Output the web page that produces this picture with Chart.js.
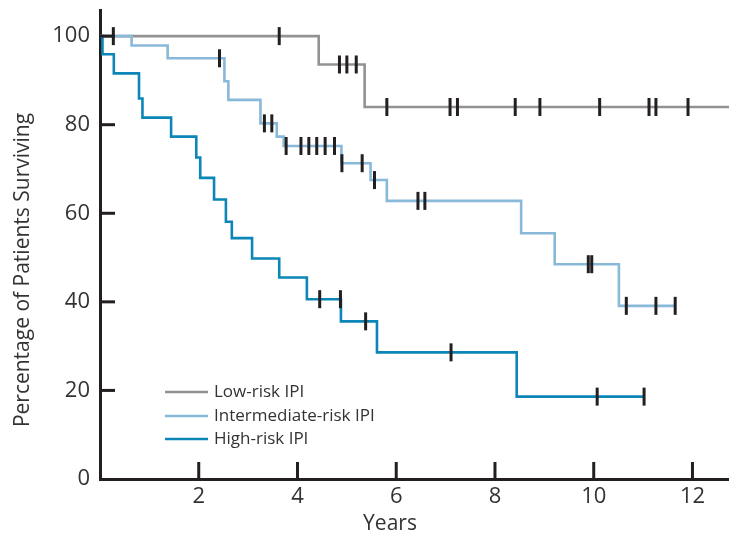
<!DOCTYPE html>
<html>
<head>
<meta charset="utf-8">
<script src="https://cdn.jsdelivr.net/npm/chart.js@4"></script>
<style>
	html, body { margin: 0; padding: 0; background: #fff; }
	#wrap { width: 729px; height: 537px; }
</style>
</head>
<body>
<div id="wrap"><canvas id="kmChart" width="729" height="537"></canvas></div>
<script>
/* ---------------- data ---------------- */

var seriesNames = [ 'Low-risk IPI', 'Intermediate-risk IPI', 'High-risk IPI' ];

// step times (years) and survival (%) after each step
var lowTimes = [ 0, 4.43, 5.36, 12.74 ];
var lowSurv  = [ 100, 93.6, 84.0, 84.0 ];
var lowCensored = [ 0.27, 3.63, 4.85, 5.0, 5.19, 5.81, 7.09, 7.24, 8.41, 8.91, 10.12, 11.12, 11.26, 11.91 ];

var midTimes = [ 0, 0.64, 1.37, 2.52, 2.60, 3.25, 3.58, 3.72, 4.89, 5.48, 5.81, 8.53, 9.21, 10.51, 11.65 ];
var midSurv  = [ 100, 97.9, 95.0, 89.8, 85.6, 80.3, 77.3, 75.2, 71.3, 67.5, 62.8, 55.5, 48.5, 39.1, 39.1 ];
var midCensored = [ 2.42, 3.33, 3.48, 3.77, 4.07, 4.23, 4.39, 4.56, 4.75, 4.90, 5.31, 5.56, 6.44, 6.58, 9.89, 9.96, 10.66, 11.26, 11.65 ];

var highTimes = [ 0, 0.05, 0.28, 0.79, 0.86, 1.44, 1.95, 2.03, 2.31, 2.55, 2.67, 3.08, 3.63, 4.19, 4.88, 5.61, 8.44, 11.02 ];
var highSurv  = [ 100, 95.9, 91.6, 85.9, 81.6, 77.3, 72.6, 68.0, 63.1, 58.1, 54.4, 49.8, 45.5, 40.6, 35.6, 28.6, 18.6, 18.6 ];
var highCensored = [ 4.45, 4.87, 5.38, 7.11, 10.07, 11.02 ];

var xTicks = [ 2, 4, 6, 8, 10, 12 ];
var yTicks = [ 0, 20, 40, 60, 80, 100 ];

/* ---------------- helpers ---------------- */

var colors = [ '#929292', '#89b9d9', '#0b86b6' ];
var censorColor = '#231f20';
var axisColor = '#231f20';
var textColor = '#333333';
var fontFamily = '"Open Sans", Lato, sans-serif';

function toPoints(times, surv) {
	return times.map(function (t, i) { return { x: t, y: surv[i] }; });
}

// survival level at a censoring time (last step at or before it)
function censorPoints(censored, times, surv) {
	return censored.map(function (t) {
		var v = surv[0];
		for (var i = 0; i < times.length; i++) {
			if (times[i] <= t) v = surv[i];
		}
		return { x: t, y: v };
	});
}

function stepSet(label, times, surv, color) {
	return {
		type: 'line',
		label: label,
		data: toPoints(times, surv),
		stepped: 'before',
		borderColor: color,
		borderWidth: 2.6,
		pointRadius: 0,
		fill: false,
		order: 2
	};
}

function censorSet(censored, times, surv) {
	return {
		type: 'scatter',
		label: 'censored',
		data: censorPoints(censored, times, surv),
		pointStyle: 'line',
		rotation: 90,
		radius: 9,
		borderWidth: 3,
		borderColor: censorColor,
		backgroundColor: censorColor,
		order: 1
	};
}

/* ---------------- extra drawing: inward ticks, titles, legend ---------------- */

var decorations = {
	id: 'decorations',
	afterDraw: function (chart) {
		var ctx = chart.ctx;
		var xs = chart.scales.x;
		var ys = chart.scales.y;
		var area = chart.chartArea;

		ctx.save();
		ctx.strokeStyle = axisColor;
		ctx.lineWidth = 3;
		// y ticks point into the plot
		yTicks.forEach(function (v) {
			if (v === 0) return;
			var py = ys.getPixelForValue(v);
			ctx.beginPath();
			ctx.moveTo(area.left, py);
			ctx.lineTo(area.left + 15, py);
			ctx.stroke();
		});
		// x ticks point up
		xTicks.forEach(function (v) {
			var px = xs.getPixelForValue(v);
			ctx.beginPath();
			ctx.moveTo(px, area.bottom);
			ctx.lineTo(px, area.bottom - 17);
			ctx.stroke();
		});

		// axis titles
		ctx.fillStyle = textColor;
		ctx.font = '21px ' + fontFamily;
		ctx.textAlign = 'center';
		ctx.textBaseline = 'middle';
		ctx.fillText('Years', 390, 524);
		ctx.save();
		ctx.translate(23, 270);
		ctx.rotate(-Math.PI / 2);
		ctx.fillText('Percentage of Patients Surviving', 0, 0);
		ctx.restore();

		// legend
		ctx.font = '17px ' + fontFamily;
		ctx.textAlign = 'left';
		var legendY = [ 392, 416, 439 ];
		seriesNames.forEach(function (name, i) {
			ctx.strokeStyle = colors[i];
			ctx.lineWidth = 2.6;
			ctx.beginPath();
			ctx.moveTo(165, legendY[i]);
			ctx.lineTo(208, legendY[i]);
			ctx.stroke();
			ctx.fillStyle = textColor;
			ctx.fillText(name, 214, legendY[i]);
		});
		ctx.restore();
	}
};

/* ---------------- chart ---------------- */

var ctx1 = document.getElementById('kmChart').getContext('2d');

var kmChart = new Chart(ctx1, {
	data: {
		datasets: [
			censorSet(lowCensored, lowTimes, lowSurv),
			censorSet(midCensored, midTimes, midSurv),
			censorSet(highCensored, highTimes, highSurv),
			stepSet(seriesNames[2], highTimes, highSurv, colors[2]),
			stepSet(seriesNames[1], midTimes, midSurv, colors[1]),
			stepSet(seriesNames[0], lowTimes, lowSurv, colors[0])
		]
	},
	options: {
		responsive: false,
		animation: false,
		layout: {
			autoPadding: false,
			padding: { left: 0, right: 0, top: 10, bottom: 0 }
		},
		plugins: {
			legend: { display: false },
			tooltip: { enabled: false }
		},
		scales: {
			x: {
				type: 'linear',
				min: 0,
				max: 12.74,
				afterBuildTicks: function (scale) {
					scale.ticks = xTicks.map(function (v) { return { value: v }; });
				},
				afterFit: function (scale) {
					scale.height = 58;
					scale.paddingLeft = 0;
					scale.paddingRight = 0;
				},
				grid: { display: false, drawTicks: false },
				border: { display: true, color: axisColor, width: 3 },
				ticks: {
					padding: 5,
					color: textColor,
					font: { family: fontFamily, size: 22 },
					maxRotation: 0
				}
			},
			y: {
				type: 'linear',
				min: 0,
				max: 105.9,
				afterBuildTicks: function (scale) {
					scale.ticks = yTicks.map(function (v) { return { value: v }; });
				},
				afterFit: function (scale) {
					scale.width = 100;
					scale.paddingTop = 0;
					scale.paddingBottom = 0;
				},
				grid: { display: false, drawTicks: false },
				border: { display: true, color: axisColor, width: 3 },
				ticks: {
					padding: 10,
					color: textColor,
					font: { family: fontFamily, size: 22 }
				}
			}
		}
	},
	plugins: [ decorations ]
});
</script>
</body>
</html>
